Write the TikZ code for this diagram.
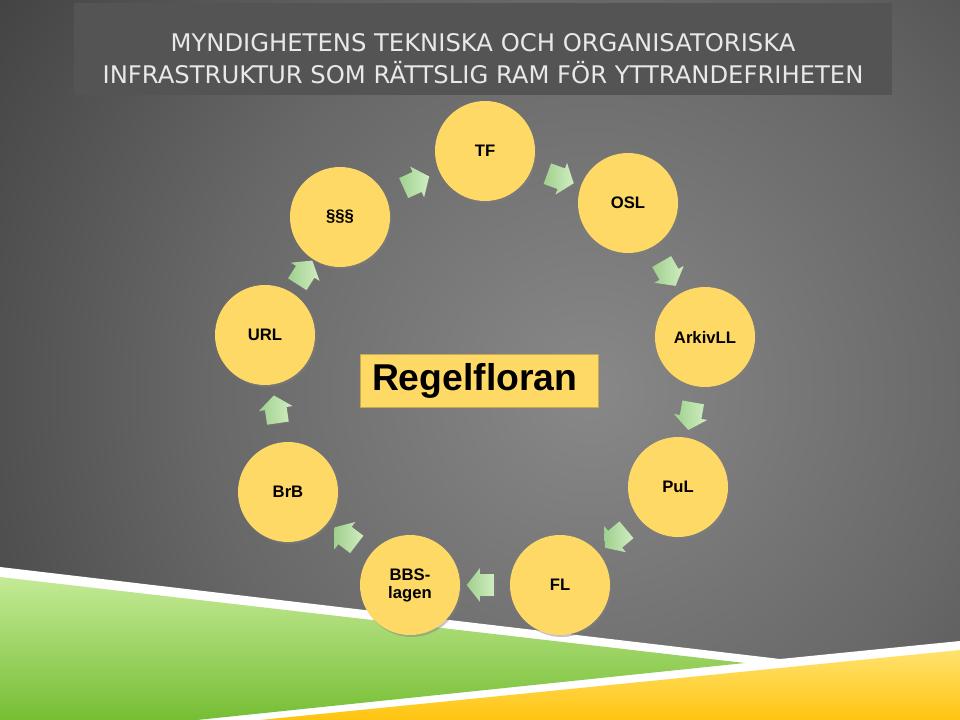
\documentclass[tikz,border=0pt]{standalone}
\usepackage{fontspec}
\setmainfont{Liberation Sans}
\newfontfamily\titlefont{DejaVu Sans}
\usetikzlibrary{shapes.arrows,shadows}
\definecolor{ringgold}{RGB}{255,217,102}
\definecolor{arrowlight}{RGB}{208,238,194}
\definecolor{arrowdark}{RGB}{160,208,142}
\definecolor{bgcenter}{RGB}{136,136,136}
\definecolor{bgmid}{RGB}{104,104,104}
\definecolor{bgdark}{RGB}{50,50,50}
\definecolor{titlegray}{RGB}{84,84,84}
\definecolor{greenlight}{RGB}{196,234,150}
\definecolor{greendark}{RGB}{118,190,52}
\definecolor{goldlight}{RGB}{255,226,110}
\definecolor{golddark}{RGB}{255,196,16}
\pgfdeclareradialshading{slidebg}{\pgfpoint{0bp}{0bp}}{color(0bp)=(bgcenter); color(16bp)=(bgmid); color(36bp)=(bgdark); color(50bp)=(bgdark)}

\begin{document}
\begin{tikzpicture}[x=0.75pt, y=-0.75pt,
  law/.style={shape=circle, fill=ringgold, minimum size=75pt, inner sep=0pt, align=center,
    font=\fontsize{12.5}{13.5}\selectfont\bfseries,
    drop shadow={opacity=0.45, shadow xshift=1.2pt, shadow yshift=-1.5pt}},
  flow/.style={single arrow, midway, sloped, allow upside down, inner xsep=0pt, inner ysep=8pt,
    minimum height=21pt, single arrow head extend=4.5pt,
    single arrow tip angle=104, left color=arrowdark, right color=arrowlight,
    drop shadow={opacity=0.3, shadow xshift=0.8pt, shadow yshift=-0.8pt}}]
\useasboundingbox (0,0) rectangle (960,720);
% background
\begin{scope}
\clip (0,0) rectangle (960,720);
\shade[shading=slidebg] (-10,-210) rectangle (1190,990);
\end{scope}
\fill[white] (0,567) -- (780,659) -- (960,641) -- (960,720) -- (0,720) -- cycle;
\shade[top color=greenlight, bottom color=greendark] (0,577) -- (745,663) -- (197,720) -- (0,720) -- cycle;
\shade[top color=goldlight, bottom color=golddark] (260,720) -- (960,650) -- (960,720) -- cycle;
% title
\fill[titlegray] (74,3) rectangle (892,95);
\node[text={rgb,255:red,232;green,232;blue,232}, align=center, font=\titlefont\fontsize{18.2}{24}\selectfont] (title) at (483,59)
  {MYNDIGHETENS TEKNISKA OCH ORGANISATORISKA\\INFRASTRUKTUR SOM RÄTTSLIG RAM FÖR YTTRANDEFRIHETEN};
% ring of laws
\node[law] (tf) at (485,151) {TF};
\node[law] (osl) at (628,203) {OSL};
\node[law] (arkiv) at (705,337) {ArkivLL};
\node[law] (pul) at (678,487) {PuL};
\node[law] (fl) at (560,585) {FL};
\node[law] (bbs) at (410,585) {BBS-\\lagen};
\node[law] (brb) at (288,492) {BrB};
\node[law] (url) at (265,335) {URL};
\node[law] (para) at (340,217) {§§§};
\node[fill=ringgold, draw={rgb,255:red,200;green,170;blue,80}, inner xsep=9pt, text width=160.5pt, align=left,
  minimum height=39.75pt, font=\fontsize{28}{30}\selectfont\bfseries] (regel) at (479,381) {Regelfloran};
% arrows
\path (para) -- node[flow] {} (tf);
\path (tf) -- node[flow] {} (osl);
\path (osl) -- node[flow] {} (arkiv);
\path (arkiv) -- node[flow] {} (pul);
\path (pul) -- node[flow] {} (fl);
\path (fl) -- node[flow] {} (bbs);
\path (bbs) -- node[flow] {} (brb);
\path (brb) -- node[flow] {} (url);
\path (url) -- node[flow] {} (para);
\end{tikzpicture}
\end{document}
